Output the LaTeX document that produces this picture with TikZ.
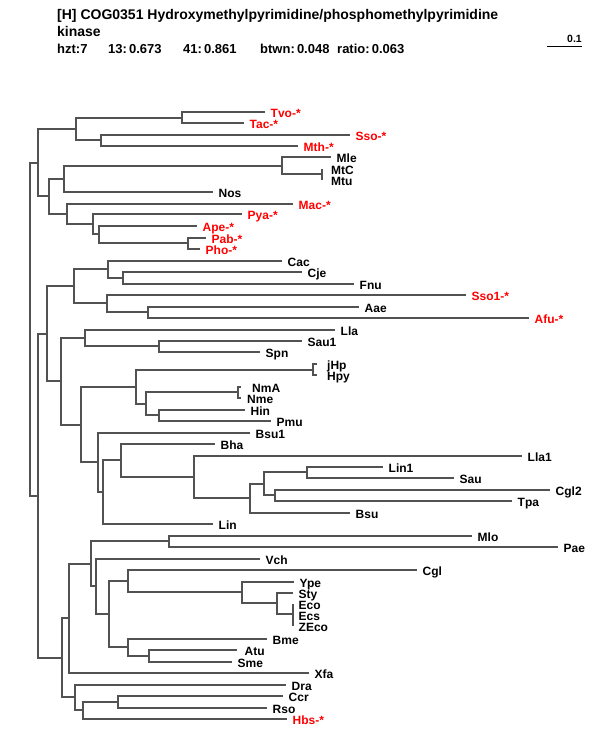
\documentclass[tikz,border=0pt]{standalone}
\usepackage{fontspec}
\setmainfont{Liberation Sans}
\definecolor{treegray}{RGB}{82,82,82}
\begin{document}
\begin{tikzpicture}
  [x=1pt, y=-1pt,
    branch/.style={draw=treegray, line width=1.5pt},
    leaf/.style={%
      anchor=west, inner xsep=5.5pt, inner ysep=0pt,
      text height=11pt, text depth=0pt,
      font=\bfseries\fontsize{12}{12}\selectfont
    },
    arch/.style={leaf, text=red},
    head/.style={%
      anchor=base west, inner sep=0pt,
      font=\bfseries\fontsize{14}{16}\selectfont
    },
    stat/.style={head, font=\bfseries\fontsize{13}{16}\selectfont},
  ]
  \useasboundingbox (0,0) rectangle (600,750);

  % header
  \node[head] (title) at (57,19) {[H] COG0351 Hydroxymethylpyrimidine/phosphomethylpyrimidine};
  \node[head] (title2) at (57,36) {kinase};
  \node[stat] (hzt) at (57,53) {hzt:7};
  \node[stat] (s13) at (108,53) {13:\,0.673};
  \node[stat] (s41) at (183,53) {41:\,0.861};
  \node[stat] (btwn) at (260,53) {btwn:\,0.048};
  \node[stat] (ratio) at (337,53) {ratio:\,0.063};

  % scale bar
  \coordinate (sb1) at (547,46.5);
  \coordinate (sb2) at (582,46.5);
  \draw[line width=1pt] (sb1) -- (sb2);
  \node[anchor=base east, inner sep=0pt, font=\bfseries\fontsize{10.5}{12}\selectfont]
    (sblabel) at (582,42) {0.1};

  % leaves
  \node[arch] (tvo) at (265,112) {Tvo-*};
  \node[arch] (tac) at (244,123) {Tac-*};
  \node[arch] (sso) at (350,135) {Sso-*};
  \node[arch] (mth) at (298,146) {Mth-*};
  \node[leaf] (mle) at (331,157) {Mle};
  \node[leaf, inner xsep=9pt] (mtc) at (322,169) {MtC};
  \node[leaf, inner xsep=9pt] (mtu) at (322,180) {Mtu};
  \node[leaf] (nos) at (213,192) {Nos};
  \node[arch] (mac) at (293,204) {Mac-*};
  \node[arch] (pya) at (242,214) {Pya-*};
  \node[arch] (ape) at (197,226) {Ape-*};
  \node[arch] (pab) at (206,238) {Pab-*};
  \node[arch] (pho) at (200,249) {Pho-*};
  \node[leaf] (cac) at (282,261) {Cac};
  \node[leaf] (cje) at (302,272) {Cje};
  \node[leaf] (fnu) at (354,284) {Fnu};
  \node[arch] (sso1) at (466,295) {Sso1-*};
  \node[leaf] (aae) at (359,307) {Aae};
  \node[arch] (afu) at (529,318) {Afu-*};
  \node[leaf] (lla) at (335,330) {Lla};
  \node[leaf] (sau1) at (302,341) {Sau1};
  \node[leaf] (spn) at (260,352) {Spn};
  \node[leaf, inner xsep=10pt] (jhp) at (317,364) {jHp};
  \node[leaf, inner xsep=10pt] (hpy) at (317,375) {Hpy};
  \node[leaf, inner xsep=11pt] (nma) at (241,387) {NmA};
  \node[leaf, inner xsep=6pt] (nme) at (241,398) {Nme};
  \node[leaf] (hin) at (245,410) {Hin};
  \node[leaf] (pmu) at (271,421) {Pmu};
  \node[leaf] (bsu1) at (250,433) {Bsu1};
  \node[leaf] (bha) at (215,444) {Bha};
  \node[leaf] (lla1) at (522,456) {Lla1};
  \node[leaf] (lin1) at (383,467) {Lin1};
  \node[leaf] (sau) at (454,478) {Sau};
  \node[leaf] (cgl2) at (550,490) {Cgl2};
  \node[leaf] (tpa) at (512,501) {Tpa};
  \node[leaf] (bsu) at (350,513) {Bsu};
  \node[leaf] (lin) at (213,524) {Lin};
  \node[leaf] (mlo) at (472,536) {Mlo};
  \node[leaf] (pae) at (558,547) {Pae};
  \node[leaf] (vch) at (260,559) {Vch};
  \node[leaf] (cgl) at (417,570) {Cgl};
  \node[leaf] (ype) at (294,582) {Ype};
  \node[leaf] (sty) at (293,593) {Sty};
  \node[leaf] (eco) at (293,604) {Eco};
  \node[leaf] (ecs) at (293,615) {Ecs};
  \node[leaf] (zeco) at (293,626) {ZEco};
  \node[leaf] (bme) at (267,639) {Bme};
  \node[leaf, inner xsep=7.5pt] (atu) at (237,650) {Atu};
  \node[leaf] (sme) at (232,662) {Sme};
  \node[leaf] (xfa) at (309,673) {Xfa};
  \node[leaf] (dra) at (286,685) {Dra};
  \node[leaf] (ccr) at (283,696) {Ccr};
  \node[leaf] (rso) at (267,708) {Rso};
  \node[arch] (hbs) at (287,719) {Hbs-*};

  % internal nodes
  \coordinate (a) at (182,118);
  \coordinate (b) at (101,140);
  \coordinate (c) at (76,129);
  \coordinate (mt) at (322,174);
  \coordinate (d0) at (282,166);
  \coordinate (d) at (64,179);
  \coordinate (e) at (188,243);
  \coordinate (f) at (99,234);
  \coordinate (g) at (93,224);
  \coordinate (h) at (67,214);
  \coordinate (i) at (49,196);
  \coordinate (j) at (38,163);
  \coordinate (l2) at (123,278);
  \coordinate (l) at (108,269);
  \coordinate (m) at (148,312);
  \coordinate (n) at (107,303);
  \coordinate (o) at (74,286);
  \coordinate (p) at (159,346);
  \coordinate (q) at (85,338);
  \coordinate (jh) at (313,370);
  \coordinate (nm) at (238,392);
  \coordinate (r) at (159,415);
  \coordinate (s) at (146,404);
  \coordinate (t) at (136,387);
  \coordinate (u) at (307,472);
  \coordinate (v) at (275,495);
  \coordinate (w) at (264,484);
  \coordinate (x) at (250,498);
  \coordinate (y) at (194,477);
  \coordinate (z) at (121,460);
  \coordinate (aa) at (103,492);
  \coordinate (ab) at (98,462);
  \coordinate (ac) at (81,425);
  \coordinate (ad) at (61,381);
  \coordinate (ae) at (47,334);
  \coordinate (ag) at (169,541);
  \coordinate (ec) at (293,614);
  \coordinate (ah) at (277,603);
  \coordinate (ai) at (242,592);
  \coordinate (aj) at (128,581);
  \coordinate (ak) at (149,656);
  \coordinate (al) at (128,647);
  \coordinate (am) at (109,614);
  \coordinate (an) at (96,586);
  \coordinate (ao) at (91,564);
  \coordinate (ap) at (69,618);
  \coordinate (aq) at (118,702);
  \coordinate (ar) at (83,710);
  \coordinate (as) at (75,697);
  \coordinate (at) at (62,658);
  \coordinate (af) at (38,496);
  \coordinate (root) at (30,329);

  % branches
  \draw[branch] (root) |- (j) (root) |- (af);
  \draw[branch] (j) |- (c) (j) |- (i);
  \draw[branch] (c) |- (a) (c) |- (b);
  \draw[branch] (a) |- (tvo.west) (a) |- (tac.west);
  \draw[branch] (b) |- (sso.west) (b) |- (mth.west);
  \draw[branch] (i) |- (d) (i) |- (h);
  \draw[branch] (d) |- (d0) (d) |- (nos.west);
  \draw[branch] (d0) |- (mle.west) (d0) |- (mt);
  \draw[branch] (mt) |- (mtc.west) (mt) |- (mtu.west);
  \draw[branch] (h) |- (mac.west) (h) |- (g);
  \draw[branch] (g) |- (pya.west) (g) |- (f);
  \draw[branch] (f) |- (ape.west) (f) |- (e);
  \draw[branch] (e) |- (pab.west) (e) |- (pho.west);

  \draw[branch] (af) |- (ae) (af) |- (at);
  \draw[branch] (ae) |- (o) (ae) |- (ad);
  \draw[branch] (o) |- (l) (o) |- (n);
  \draw[branch] (l) |- (cac.west) (l) |- (l2);
  \draw[branch] (l2) |- (cje.west) (l2) |- (fnu.west);
  \draw[branch] (n) |- (sso1.west) (n) |- (m);
  \draw[branch] (m) |- (aae.west) (m) |- (afu.west);
  \draw[branch] (ad) |- (q) (ad) |- (ac);
  \draw[branch] (q) |- (lla.west) (q) |- (p);
  \draw[branch] (p) |- (sau1.west) (p) |- (spn.west);
  \draw[branch] (ac) |- (t) (ac) |- (ab);
  \draw[branch] (t) |- (jh) (t) |- (s);
  \draw[branch] (jh) |- (jhp.west) (jh) |- (hpy.west);
  \draw[branch] (s) |- (nm) (s) |- (r);
  \draw[branch] (nm) |- (nma.west) (nm) |- (nme.west);
  \draw[branch] (r) |- (hin.west) (r) |- (pmu.west);
  \draw[branch] (ab) |- (bsu1.west) (ab) |- (aa);
  \draw[branch] (aa) |- (z) (aa) |- (lin.west);
  \draw[branch] (z) |- (bha.west) (z) |- (y);
  \draw[branch] (y) |- (lla1.west) (y) |- (x);
  \draw[branch] (x) |- (w) (x) |- (bsu.west);
  \draw[branch] (w) |- (u) (w) |- (v);
  \draw[branch] (u) |- (lin1.west) (u) |- (sau.west);
  \draw[branch] (v) |- (cgl2.west) (v) |- (tpa.west);

  \draw[branch] (at) |- (ap) (at) |- (as);
  \draw[branch] (ap) |- (ao) (ap) |- (xfa.west);
  \draw[branch] (ao) |- (ag) (ao) |- (an);
  \draw[branch] (ag) |- (mlo.west) (ag) |- (pae.west);
  \draw[branch] (an) |- (vch.west) (an) |- (am);
  \draw[branch] (am) |- (aj) (am) |- (al);
  \draw[branch] (aj) |- (cgl.west) (aj) |- (ai);
  \draw[branch] (ai) |- (ype.west) (ai) |- (ah);
  \draw[branch] (ah) |- (sty.west) (ah) |- (ec);
  \draw[branch] (ec) |- (eco.west) (ec) |- (ecs.west) (ec) |- (zeco.west);
  \draw[branch] (al) |- (bme.west) (al) |- (ak);
  \draw[branch] (ak) |- (atu.west) (ak) |- (sme.west);
  \draw[branch] (as) |- (dra.west) (as) |- (ar);
  \draw[branch] (ar) |- (aq) (ar) |- (hbs.west);
  \draw[branch] (aq) |- (ccr.west) (aq) |- (rso.west);

\end{tikzpicture}
\end{document}
